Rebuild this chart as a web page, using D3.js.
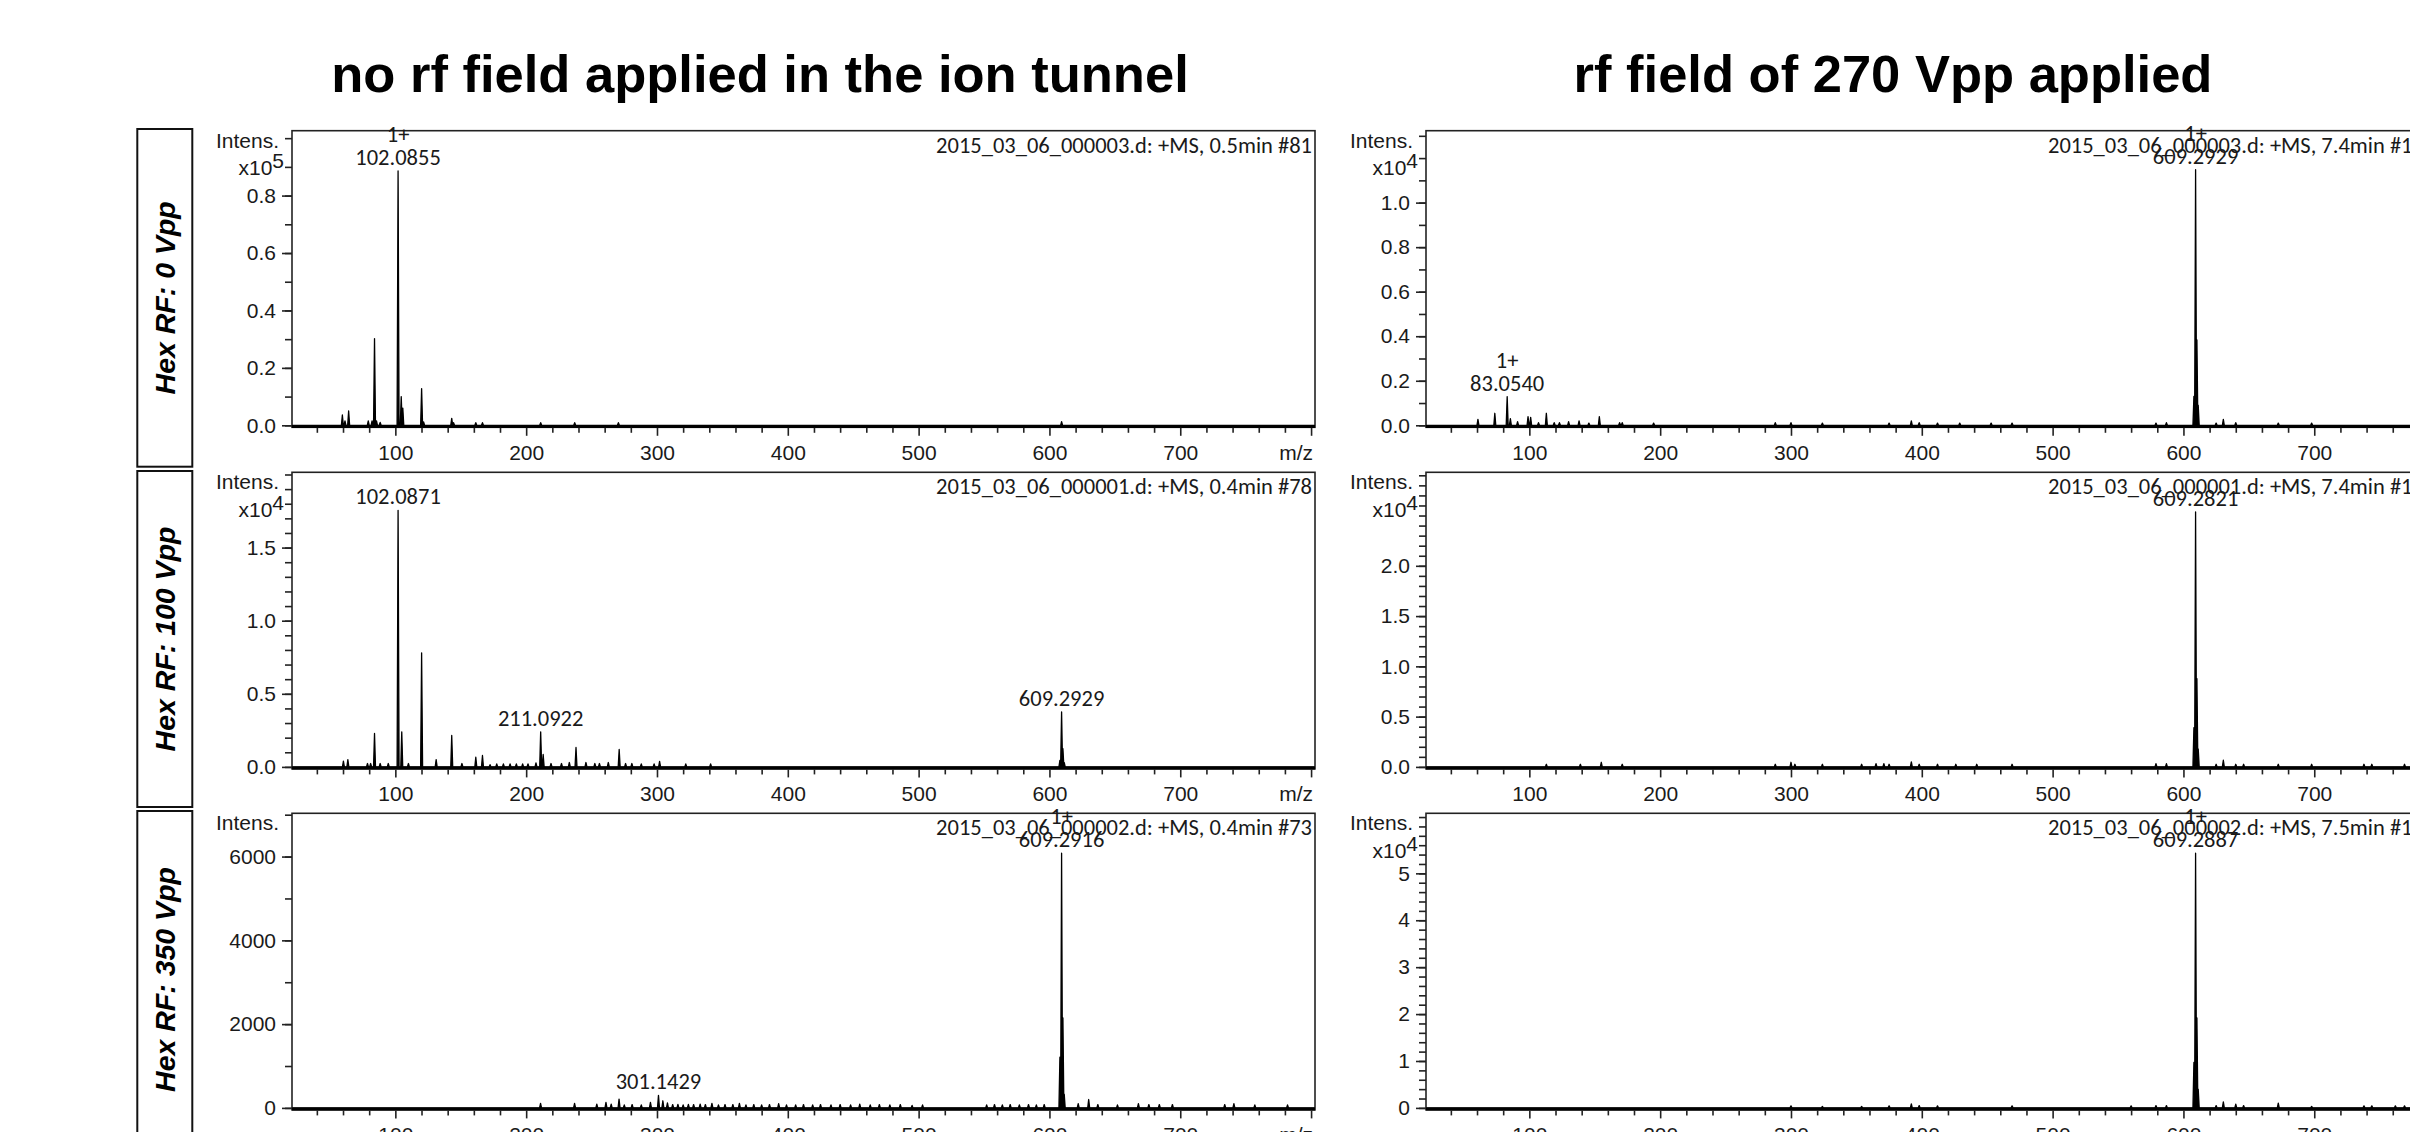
<!DOCTYPE html>
<html>
<head>
<meta charset="utf-8">
<script src="https://cdn.jsdelivr.net/npm/d3@7"></script>
<style>
  html, body { margin: 0; padding: 0; background: #fff; overflow: hidden; }
  svg { display: block; }
</style>
</head>
<body>
<svg id="fig" width="2410" height="1132"></svg>
<script>
// ---- column / row headings ----
const colTitles = ["no rf field applied in the ion tunnel", "rf field of 270 Vpp applied"];
const rowLabels = ["Hex RF: 0 Vpp", "Hex RF: 100 Vpp", "Hex RF: 350 Vpp"];

// ---- acquisition captions (row, column) ----
const scanInfo = [
  ["2015_03_06_000003.d: +MS, 0.5min #81", "2015_03_06_000003.d: +MS, 7.4min #1"],
  ["2015_03_06_000001.d: +MS, 0.4min #78", "2015_03_06_000001.d: +MS, 7.4min #1"],
  ["2015_03_06_000002.d: +MS, 0.4min #73", "2015_03_06_000002.d: +MS, 7.5min #1"]
];

// ---- m/z axis ----
const mzDomain = [21, 803];
const xTickText = ["100", "200", "300", "400", "500", "600", "700"];
const xMajorValues = [100, 200, 300, 400, 500, 600, 700, 800];
const xMinorStep = 20;
const xUnit = "m/z";

// ---- intensity axes (row, column) ----
const yExponent = [[5, 4], [4, 4], [0, 4]];
const yTop = [[1.026, 1.323], [2.015, 2.93], [7033, 6.28]];
const yTickText = [
  [["0.0", "0.2", "0.4", "0.6", "0.8"], ["0.0", "0.2", "0.4", "0.6", "0.8", "1.0"]],
  [["0.0", "0.5", "1.0", "1.5"], ["0.0", "0.5", "1.0", "1.5", "2.0"]],
  [["0", "2000", "4000", "6000"], ["0", "1", "2", "3", "4", "5"]]
];
const yMinorStep = [[0.1, 0.1], [0.1, 0.1], [1000, 0.2]];

// ---- spectra: [m/z, intensity (counts)] ----
const specNoRf0 = [
  [59.5, 3600], [61.5, 1500], [64.3, 5000], [79.3, 1500], [82.2, 1500], [84.08, 30200],
  [85.6, 1500], [88.4, 1000], [102.0855, 88600], [104.5, 10000], [105.7, 6000],
  [120.08, 12800], [121.6, 1200], [143.1, 2400], [144.5, 900], [161.5, 900], [166.6, 900],
  [211.1, 900], [237.1, 900], [270.5, 900], [609.3, 1300]
];
const specNoRf100 = [
  [60.3, 390], [63.7, 500], [78.7, 230], [81.1, 230], [84.08, 2290], [88.4, 230], [94.6, 230],
  [102.0871, 17550], [104.9, 2400], [110.0, 230], [120.08, 7800], [131.2, 500], [143.1, 2150],
  [150.9, 230], [161.5, 660], [166.6, 780], [172.4, 150], [177.5, 200], [182.6, 200],
  [187.7, 200], [192.5, 200], [197.3, 200], [201.4, 200], [207.5, 270], [211.0922, 2400],
  [213.0, 850], [219.0, 230], [227.0, 230], [233.0, 300], [238.1, 1330], [245.7, 300],
  [252.5, 230], [256.0, 230], [262.8, 300], [271.1, 1190], [276.0, 230], [280.8, 230],
  [288.0, 200], [297.8, 200], [302.0, 370], [322.0, 200], [341.0, 200],
  [608.0, 450], [609.2929, 3760], [610.3, 1250], [611.3, 300]
];
const specNoRf350 = [
  [211, 110], [237, 110], [254, 90], [261, 130], [265, 90], [271, 210], [275, 70], [281, 80],
  [288, 70], [295, 130], [301.1429, 300], [304.5, 170], [308, 120], [312, 80], [316, 85],
  [320, 70], [324, 85], [328, 80], [333, 90], [337, 80], [342, 110], [347, 70], [352, 80],
  [358, 80], [363, 110], [368, 70], [374, 80], [380, 70], [386, 80], [393, 100], [399, 70],
  [406, 70], [412, 80], [419, 70], [425, 80], [433, 70], [440, 80], [448, 70], [455, 90],
  [463, 70], [470, 80], [478, 70], [486, 80], [495, 60], [503, 70], [552, 70], [558, 80],
  [564, 70], [570, 80], [577, 70], [584, 80], [590, 70], [596, 80],
  [608.0, 1210], [609.2916, 6080], [610.3, 2150], [611.3, 330],
  [622, 100], [630, 200], [637, 80], [652, 70], [668, 100], [676, 80], [684, 80], [694, 80],
  [734, 80], [741, 100], [757, 70], [782, 70]
];
const specRf0 = [
  [60.7, 270], [73.6, 540], [83.054, 1290], [85.5, 300], [91, 160], [99, 390], [101, 360],
  [107, 120], [113, 540], [119, 120], [123, 120], [130, 160], [138, 200], [145.5, 100],
  [153.5, 390], [169, 120], [171, 120], [195, 100], [288, 120], [300, 120], [324, 100],
  [375, 100], [392, 200], [398, 120], [412, 100], [429, 100], [453, 100], [469, 100],
  [579, 100], [587, 120], [608.0, 1300], [609.2929, 11480], [610.3, 3840], [611.3, 900],
  [625, 100], [630.5, 270], [640, 120], [672.5, 100], [698, 100]
];
const specRf100 = [
  [113, 265], [139, 265], [155, 460], [171, 265], [288, 265], [300, 460], [303, 265],
  [324, 265], [354, 265], [365, 330], [371, 330], [375, 265], [392, 500], [398, 265],
  [412, 265], [426, 265], [442, 265], [469, 265], [579, 330], [587, 330],
  [608.0, 3900], [609.2821, 25350], [610.3, 8780], [611.3, 1800],
  [625, 265], [630.5, 660], [640, 265], [646, 265], [672.5, 265], [698, 265],
  [738, 265], [744, 265], [769, 265]
];
const specRf350 = [
  [300, 430], [324, 300], [354, 300], [375, 430], [392, 850], [398, 500], [412, 430],
  [469, 430], [560, 430], [579, 500], [587, 500],
  [608.0, 9700], [609.2887, 54300], [610.3, 19200], [611.3, 4000],
  [625, 500], [630.5, 1300], [640, 800], [646, 500], [672.5, 1000], [698, 300],
  [738, 430], [744, 430], [762, 430], [769, 430]
];
const spectra = [[specNoRf0, specRf0], [specNoRf100, specRf100], [specNoRf350, specRf350]];

// ---- annotated peaks: [m/z, show charge state] ----
const peakLabels = [
  [[[102.0855, true]], [[83.054, true], [609.2929, true]]],
  [[[102.0871, false], [211.0922, false], [609.2929, false]], [[609.2821, false]]],
  [[[301.1429, false], [609.2916, true]], [[609.2887, true]]]
];
const chargeText = "1+";

// ---- layout ----
const colLeft = [292, 1426];
const plotW = 1023;
const rowTop = [130.7, 472.3, 813.3];
const plotH = 294.6;
const boxX = 137.3, boxW = 55;
const boxTop = [129, 471, 811];
const boxH = [337.7, 336, 337];
const peakHalfWidth = 0.75;

const axisFont = "'Liberation Sans', Arial, sans-serif";
const annoFont = "Carlito, Calibri, Lato, 'Open Sans', sans-serif";
const annoSize = "22.5px";

const svg = d3.select("#fig");
svg.append("rect").attr("width", 2410).attr("height", 1132).attr("fill", "#fff");

// column titles
const titleX = [760, 1893];
colTitles.forEach((t, c) => {
  svg.append("text")
    .attr("x", titleX[c]).attr("y", 91.7)
    .attr("text-anchor", "middle")
    .style("font-family", axisFont).style("font-weight", "bold").style("font-size", "52.5px")
    .attr("fill", "#000").text(t);
});

// row label boxes
rowLabels.forEach((t, r) => {
  svg.append("rect")
    .attr("x", boxX).attr("y", boxTop[r]).attr("width", boxW).attr("height", boxH[r])
    .attr("fill", "none").attr("stroke", "#111").attr("stroke-width", 2);
  svg.append("text")
    .attr("transform", `translate(${boxX + boxW / 2},${boxTop[r] + boxH[r] / 2}) rotate(-90)`)
    .attr("text-anchor", "middle").attr("dominant-baseline", "central")
    .style("font-family", axisFont).style("font-weight", "bold").style("font-style", "italic")
    .style("font-size", "28.5px").attr("fill", "#000").text(t);
});

// expand a peak list into a profile outline
function outline(peaks) {
  const pts = [[mzDomain[0], 0]];
  peaks.slice().sort((a, b) => a[0] - b[0]).forEach(([mz, v]) => {
    pts.push([mz - peakHalfWidth, 0], [mz, v], [mz + peakHalfWidth, 0]);
  });
  pts.push([mzDomain[1], 0]);
  return pts;
}

for (let r = 0; r < 3; r++) {
  for (let c = 0; c < 2; c++) {
    const x0 = colLeft[c], y0 = rowTop[r];
    const scaleF = Math.pow(10, yExponent[r][c]);
    const x = d3.scaleLinear().domain(mzDomain).range([x0, x0 + plotW]);
    const y = d3.scaleLinear().domain([0, yTop[r][c]]).range([y0 + plotH, y0]);
    const g = svg.append("g");

    // spectrum trace
    const pts = outline(spectra[r][c]).map(d => [d[0], d[1] / scaleF]);
    g.append("path")
      .attr("d", d3.area().x(d => x(d[0])).y0(y(0)).y1(d => y(d[1]))(pts))
      .attr("fill", "#000");
    g.append("path")
      .attr("d", d3.line().x(d => x(d[0])).y(d => y(d[1]))(pts))
      .attr("fill", "none").attr("stroke", "#000").attr("stroke-width", 1.3)
      .attr("stroke-linejoin", "round");

    // frame
    g.append("rect")
      .attr("x", x0).attr("y", y0).attr("width", plotW).attr("height", plotH + 2)
      .attr("fill", "none").attr("stroke", "#222").attr("stroke-width", 1.6);
    g.append("line")
      .attr("x1", x0).attr("x2", x0 + plotW)
      .attr("y1", y0 + plotH + 1.2).attr("y2", y0 + plotH + 1.2)
      .attr("stroke", "#000").attr("stroke-width", 3);

    // m/z axis
    const xMinor = d3.range(Math.ceil(mzDomain[0] / xMinorStep), Math.floor(mzDomain[1] / xMinorStep) + 1)
      .map(i => i * xMinorStep).filter(v => v % 100 !== 0);
    const xAxisG = g.append("g").attr("transform", `translate(0,${y0 + plotH + 2.5})`);
    xAxisG.append("g").call(d3.axisBottom(x).tickValues(xMinor).tickSize(5).tickFormat(""));
    xAxisG.append("g").call(
      d3.axisBottom(x).tickValues(xMajorValues).tickSize(8).tickPadding(9)
        .tickFormat(v => { const i = xTickText.indexOf(String(v)); return i >= 0 ? xTickText[i] : ""; })
    );
    xAxisG.append("text")
      .attr("x", x0 + plotW - 2).attr("y", 17).attr("dy", "0.71em")
      .attr("text-anchor", "end").text(xUnit);

    // intensity axis
    const labVals = yTickText[r][c].map(Number);
    const step = yMinorStep[r][c];
    const yMinor = d3.range(0, Math.floor(yTop[r][c] / step + 1e-6) + 1).map(i => +(i * step).toFixed(6));
    const yAxisG = g.append("g").attr("transform", `translate(${x0},0)`);
    yAxisG.append("g").call(d3.axisLeft(y).tickValues(yMinor).tickSize(7).tickFormat(""));
    yAxisG.append("g").call(
      d3.axisLeft(y).tickValues(labVals).tickSize(10).tickPadding(6)
        .tickFormat((v, i) => yTickText[r][c][i])
    );
    yAxisG.append("text")
      .attr("x", -13).attr("y", y0 + 9.5).attr("dy", "0.35em")
      .attr("text-anchor", "end").text("Intens.");
    if (yExponent[r][c] > 0) {
      const ex = yAxisG.append("text")
        .attr("x", -8).attr("y", y0 + 37).attr("dy", "0.35em").attr("text-anchor", "end");
      ex.append("tspan").text("x10");
      ex.append("tspan").attr("dy", "-7").text(yExponent[r][c]);
    }

    g.selectAll(".domain").remove();
    g.selectAll(".tick line").attr("stroke", "#222").attr("stroke-width", 1.6);
    [xAxisG, yAxisG].forEach(ax => ax.selectAll("text")
      .style("font-family", axisFont).style("font-size", "21px").attr("fill", "#1a1a1a"));

    // acquisition caption
    const cap = g.append("text")
      .attr("y", y0 + 22)
      .style("font-family", annoFont).style("font-size", annoSize).attr("fill", "#1a1a1a")
      .text(scanInfo[r][c]);
    if (c === 0) cap.attr("x", x0 + plotW - 3).attr("text-anchor", "end");
    else cap.attr("x", x0 + 622).attr("text-anchor", "start");

    // peak annotations
    peakLabels[r][c].forEach(([mz, showZ]) => {
      const pk = spectra[r][c].find(d => d[0] === mz);
      const px = x(mz), py = y(pk[1] / scaleF);
      g.append("text")
        .attr("x", px).attr("y", py - 6).attr("text-anchor", "middle")
        .style("font-family", annoFont).style("font-size", annoSize).attr("fill", "#1a1a1a")
        .text(mz.toFixed(4));
      if (showZ) {
        g.append("text")
          .attr("x", px).attr("y", py - 29).attr("text-anchor", "middle")
          .style("font-family", annoFont).style("font-size", annoSize).attr("fill", "#1a1a1a")
          .text(chargeText);
      }
    });
  }
}
</script>
</body>
</html>
